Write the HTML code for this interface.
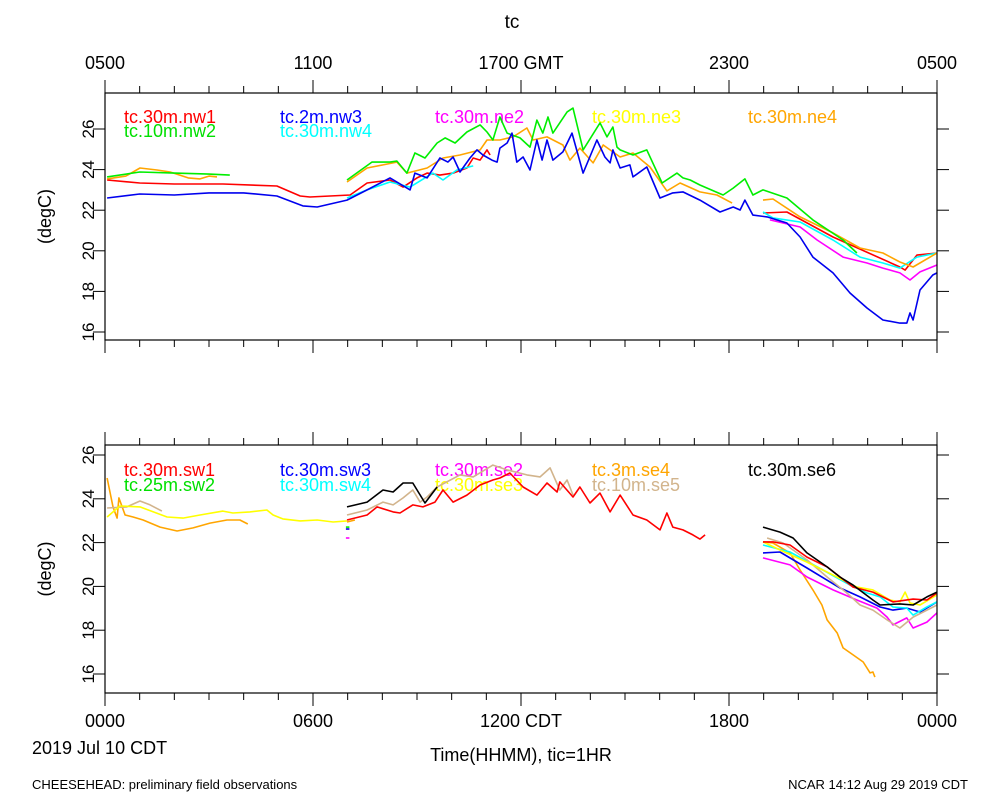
<!DOCTYPE html>
<html><head><meta charset="utf-8"><style>
html,body{margin:0;padding:0;background:#fff;}
svg{display:block;font-family:"Liberation Sans",sans-serif;}
</style></head><body>
<svg id="chart" width="1000" height="800" xmlns="http://www.w3.org/2000/svg">
<text x="512" y="28" font-size="19" text-anchor="middle">tc</text>
<g id="top-axis-labels" font-size="18" text-anchor="middle"></g>
<g id="bottom-axis-labels" font-size="18" text-anchor="middle"></g>
<text x="32" y="754" font-size="18">2019 Jul 10 CDT</text>
<text x="521" y="761" font-size="18" text-anchor="middle">Time(HHMM), tic=1HR</text>
<text x="32" y="789" font-size="13">CHEESEHEAD: preliminary field observations</text>
<text x="968" y="789" font-size="13" text-anchor="end">NCAR 14:12 Aug 29 2019 CDT</text>
<g id="p0"></g>
<g id="p1"></g>
</svg>
<script>
const topTickLabels=["0500","1100","1700 GMT","2300","0500"];
const bottomTickLabels=["0000","0600","1200 CDT","1800","0000"];
const yTicks=[16,18,20,22,24,26];

// ---- top panel series (hours since 0000 CDT, degC), null = gap
const nw1_h=[0.06,1.0,2.0,3.4,4.96,5.63,5.91,7.07,7.56,8.22,8.6,9.0,9.29,9.66,10.04,10.44,10.62,10.82,11.02,11.11,15,18.98,19.67,21.0,22.93,23.08,23.42,24.0];
const nw1_v=[23.49,23.34,23.29,23.29,23.19,22.70,22.65,22.75,23.34,23.49,23.14,23.59,23.83,23.73,23.83,24.08,24.57,24.47,24.97,24.72,null,21.86,21.91,20.68,19.20,19.05,19.79,19.89];
const nw2_h=[0.06,1.0,2.0,3.0,3.6,5,6.98,7.70,8.22,8.42,8.71,8.94,9.23,9.58,9.81,10.10,10.44,10.82,11.02,11.19,11.39,11.60,11.97,12.26,12.46,12.63,12.78,12.92,13.33,13.50,13.79,14.28,14.48,14.65,14.77,14.86,15.23,15.63,16.07,16.50,16.67,16.88,17.16,17.83,18.12,18.46,18.69,18.98,19.67,20.42,21.29,21.69];
const nw2_v=[23.64,23.88,23.83,23.78,23.73,null,23.49,24.37,24.37,24.42,23.83,24.82,24.57,25.31,25.56,25.31,25.85,26.20,25.85,25.46,26.59,25.80,25.56,25.11,26.44,25.80,26.59,25.80,26.84,27.03,24.97,26.30,25.61,26.10,25.11,24.97,24.72,24.97,23.34,23.83,23.59,23.49,23.24,22.75,23.09,23.54,22.75,23.0,22.60,21.52,20.53,19.89];
const nw3_h=[0.06,1.0,2.0,3.0,4.0,4.96,5.63,5.71,6.12,6.98,7.56,8.22,8.80,8.94,9.29,9.66,9.89,10.04,10.24,10.53,10.73,10.90,11.16,11.31,11.39,11.60,11.74,11.88,12.06,12.26,12.46,12.61,12.75,12.92,13.21,13.47,13.79,14.19,14.42,14.57,14.65,14.86,15.14,15.23,15.63,16.01,16.38,16.67,17.16,17.74,18.12,18.32,18.46,18.69,19.10,19.67,20.05,20.42,21.0,21.49,21.98,22.44,22.93,23.13,23.22,23.31,23.51,23.88,24.0];
const nw3_v=[22.60,22.80,22.75,22.85,22.85,22.70,22.26,22.21,22.16,22.50,23.0,23.59,23.0,23.83,23.59,24.57,24.37,24.62,23.88,24.57,24.97,24.72,24.47,24.37,25.06,25.31,25.80,24.37,24.62,23.98,25.46,24.47,25.46,24.47,24.87,25.80,23.83,25.46,24.62,24.33,24.97,24.08,24.23,23.64,24.13,22.60,22.85,22.90,22.50,21.91,22.16,22.01,22.50,21.76,21.67,21.37,20.68,19.69,18.91,17.92,17.18,16.59,16.44,16.44,16.94,16.59,18.07,18.81,18.91];
const nw4_h=[6.98,7.56,8.22,8.80,9.46,9.75,10.15,10.62,15,18.98,19.27,20.05,21.0,21.78,22.44,22.93,23.42,24.0];
const nw4_v=[22.60,23.0,23.39,23.14,23.83,23.49,23.98,24.18,null,21.91,21.62,21.42,20.53,19.69,19.40,19.15,19.69,19.89];
const ne2_h=[19.18,20.05,20.54,21.29,21.98,22.44,22.93,23.22,23.51,24.0];
const ne2_v=[21.52,21.17,20.53,19.69,19.40,19.15,18.91,18.56,18.96,19.30];
const ne4_h=[0.06,0.6,1.01,1.5,1.88,2.4,2.74,3.0,3.23,5,6.98,7.56,8.02,8.42,8.71,9.29,9.75,10.24,10.82,11.02,11.39,11.77,12.17,12.35,12.75,13.21,13.41,13.70,14.08,14.37,14.86,15.23,15.72,16.21,16.59,17.16,17.65,18.09,18.5,18.98,19.27,20.05,21.0,21.78,22.44,22.93,23.31,24.0];
const ne4_v=[23.54,23.68,24.08,23.98,23.88,23.59,23.54,23.68,23.64,null,23.39,24.08,24.23,24.37,23.83,24.08,24.57,24.72,24.97,25.46,25.46,25.61,26.05,25.46,25.61,25.21,24.47,25.06,24.33,25.21,24.62,24.82,24.13,22.95,23.34,22.90,22.75,22.35,null,22.50,22.55,21.67,20.88,20.14,19.89,19.45,19.20,19.89];

// ---- bottom panel series
const sw1_h=[6.98,7.56,7.85,8.31,8.51,8.88,9.17,9.52,9.75,10.04,10.44,10.82,11.19,11.39,11.68,12.06,12.46,12.75,13.04,13.12,13.50,13.70,13.99,14.28,14.57,14.86,15.23,15.63,16.01,16.21,16.38,16.67,16.96,17.16,17.31,18,18.98,19.27,19.76,20.25,20.83,21.58,22.15,22.73,23.31,23.71,24.0];
const sw1_v=[23.03,23.26,23.63,23.40,23.35,23.72,23.63,23.85,24.40,23.85,24.17,24.63,24.86,24.95,25.18,24.54,24.17,24.72,24.31,24.77,24.08,24.54,23.81,24.26,23.40,24.17,23.26,23.03,22.58,23.35,22.71,22.58,22.35,22.16,22.35,null,22.03,22.03,21.89,21.34,20.89,19.97,19.74,19.29,19.42,19.38,19.70];
const sw4_h=[18.98,19.76,20.71,21.49,21.98,22.36,22.73,23.13,23.31,23.71,24.0];
const sw4_v=[21.89,21.57,20.75,20.06,19.70,19.52,19.06,19.01,18.69,19.06,19.29];
const sw3_h=[18.98,19.47,20.25,21.20,21.78,22.36,22.73,23.13,23.51,24.0];
const sw3_v=[21.53,21.57,20.84,19.93,19.52,19.06,18.92,19.01,18.83,19.29];
const se2_h=[18.98,19.76,20.25,21.0,21.69,22.27,22.56,22.73,23.13,23.31,23.71,24.0];
const se2_v=[21.30,20.98,20.43,19.84,19.38,19.01,18.60,18.24,18.56,18.10,18.37,18.79];
const se3_h=[0.06,0.43,1.01,1.79,2.25,2.74,3.40,3.69,4.18,4.67,4.85,5.13,5.63,6.12,6.58,6.98,12,18.98,19.47,20.25,21.0,21.69,22.15,22.64,22.93,23.08,23.22,23.51,24.0];
const se3_v=[23.17,23.67,23.63,23.17,23.12,23.26,23.44,23.35,23.40,23.49,23.26,23.08,22.99,23.03,22.94,22.99,null,22.03,21.66,21.11,20.52,19.97,19.84,19.38,19.29,19.74,19.24,19.15,19.61];
const se4_h=[0.06,0.23,0.35,0.40,0.58,0.81,1.10,1.59,2.08,2.54,3.03,3.52,3.89,4.12,5,6.98,7.21,12,18.98,19.27,19.76,20.05,20.42,20.68,20.83,21.12,21.29,21.58,21.87,22.07,22.15,22.21];
const se4_v=[24.95,23.63,23.12,24.04,23.26,23.17,23.03,22.71,22.53,22.67,22.89,23.03,23.03,22.85,null,22.94,23.03,null,22.03,21.98,21.53,20.75,19.84,19.15,18.47,17.87,17.19,16.87,16.55,16.05,16.09,15.86];
const se5_h=[0.06,0.63,1.01,1.30,1.64,4,6.98,7.56,8.02,8.31,8.60,8.88,9.09,9.29,9.58,10.24,10.62,11.19,11.60,12.17,12.55,12.84,13.12,13.33,13.50,16,19.10,19.56,20.25,20.83,21.40,21.78,22.15,22.56,22.93,23.31,23.71,24.0];
const se5_v=[23.58,23.63,23.90,23.72,23.44,null,23.26,23.49,23.85,23.72,24.04,24.40,23.85,24.08,24.54,25.09,25.0,25.54,25.32,25.09,25.0,25.41,24.40,24.86,24.17,null,22.21,21.98,21.21,20.43,19.70,19.15,18.92,18.47,18.10,18.60,18.92,19.15];
const se6_h=[6.98,7.56,8.02,8.31,8.60,8.88,9.23,9.58,14,18.98,19.47,19.85,20.25,20.83,21.20,21.58,22.15,22.36,22.93,23.31,23.71,24.0];
const se6_v=[23.63,23.85,24.40,24.31,24.72,24.72,23.81,24.54,null,22.71,22.48,22.21,21.53,20.89,20.43,20.06,19.38,19.15,19.20,19.15,19.52,19.74];
const sw2_h=[6.95,7.05];
const sw2_v=[22.71,22.71];
const sw4b_h=[6.95,7.05];
const sw4b_v=[22.62,22.62];
const se2b_h=[6.95,7.05];
const se2b_v=[22.21,22.21];

const NS="http://www.w3.org/2000/svg";
function mk(tag,attrs,parent){const e=document.createElementNS(NS,tag);for(const k in attrs)e.setAttribute(k,attrs[k]);parent.appendChild(e);return e;}
const X0=105,X1=937;
function xs(h){return X0+(X1-X0)*h/24;}
const panels=[
 {g:document.getElementById('p0'),top:93,bot:340,y26:129,y16:332},
 {g:document.getElementById('p1'),top:445,bot:693,y26:455,y16:674}
];
function ysFor(p){return v=>p.y16+(v-16)*(p.y26-p.y16)/10;}

const svg=document.getElementById('chart');
// axis labels
const tl=document.getElementById('top-axis-labels');
topTickLabels.forEach((s,i)=>{const t=mk('text',{x:xs(i*6),y:69},tl);t.textContent=s;

});
const bl=document.getElementById('bottom-axis-labels');
bottomTickLabels.forEach((s,i)=>{const t=mk('text',{x:xs(i*6),y:727},bl);t.textContent=s;

});

function drawPanel(p,legend,series){
 const ys=ysFor(p);
 const g=p.g;
 // legend text
 legend.forEach(L=>{const t=mk('text',{x:L[2],y:L[3],fill:L[1],'font-size':18},g);t.textContent=L[0];
 
 });
 // series
 series.forEach(S=>{
  let d='',pen=false;
  S.h.forEach((h,i)=>{const v=S.v[i];if(v===null){pen=false;return;}
   d+=(pen?'L':'M')+xs(h).toFixed(1)+','+ys(v).toFixed(1);pen=true;});
  const pth=mk('path',{d:d,fill:'none',stroke:S.c,'stroke-width':1.6,'stroke-linejoin':'round'},g);
  
  
 });
 // frame
 const r=mk('rect',{x:X0,y:p.top,width:X1-X0,height:p.bot-p.top,fill:'none',stroke:'#000','stroke-width':1.2},g);
 
 
 // x ticks
 for(let h=0;h<=24;h++){const L=(h%6===0)?13:7;
  mk('line',{x1:xs(h),x2:xs(h),y1:p.top,y2:p.top-L,stroke:'#000'},g);
  mk('line',{x1:xs(h),x2:xs(h),y1:p.bot,y2:p.bot+L,stroke:'#000'},g);}
 // y ticks & labels
 yTicks.forEach(v=>{const y=ys(v);
  mk('line',{x1:X0,x2:X0-12,y1:y,y2:y,stroke:'#000'},g);
  mk('line',{x1:X1,x2:X1+12,y1:y,y2:y,stroke:'#000'},g);
  const t=mk('text',{x:0,y:0,'font-size':17,'text-anchor':'middle',transform:'translate(94,'+y+') rotate(-90)'},g);
  t.textContent=String(v);
  
  });
 const yt=mk('text',{x:0,y:0,'font-size':18,'text-anchor':'middle',transform:'translate(51,'+((p.top+p.bot)/2)+') rotate(-90)'},g);
 yt.textContent='(degC)';
 
 
}

drawPanel(panels[0],[
 ['tc.30m.nw1','#ff0000',124,123],['tc.10m.nw2','#00e000',124,137],
 ['tc.2m.nw3','#0000ff',280,123],['tc.30m.nw4','#00ffff',280,137],
 ['tc.30m.ne2','#ff00ff',435,123],['tc.30m.ne3','#ffff00',592,123],['tc.30m.ne4','#ffa500',748,123]
],[
 {n:'nw1',h:nw1_h,v:nw1_v,c:'#ff0000'},{n:'ne2',h:ne2_h,v:ne2_v,c:'#ff00ff'},
 {n:'nw4',h:nw4_h,v:nw4_v,c:'#00ffff'},{n:'ne4',h:ne4_h,v:ne4_v,c:'#ffa500'},
 {n:'nw2',h:nw2_h,v:nw2_v,c:'#00ee00'},{n:'nw3',h:nw3_h,v:nw3_v,c:'#0000ee'}
]);
drawPanel(panels[1],[
 ['tc.30m.sw1','#ff0000',124,476],['tc.25m.sw2','#00e000',124,491],
 ['tc.30m.sw3','#0000ff',280,476],['tc.30m.sw4','#00ffff',280,491],
 ['tc.30m.se2','#ff00ff',435,476],['tc.30m.se3','#ffff00',435,491],
 ['tc.3m.se4','#ffa500',592,476],['tc.10m.se5','#d2b48c',592,491],['tc.30m.se6','#000000',748,476]
],[
 {n:'se4',h:se4_h,v:se4_v,c:'#ffa500'},{n:'se2',h:se2_h,v:se2_v,c:'#ff00ff'},
 {n:'sw3',h:sw3_h,v:sw3_v,c:'#0000ee'},{n:'sw4',h:sw4_h,v:sw4_v,c:'#00ffff'},
 {n:'se5',h:se5_h,v:se5_v,c:'#d2b48c'},{n:'se3',h:se3_h,v:se3_v,c:'#ffff00'},
 {n:'sw1',h:sw1_h,v:sw1_v,c:'#ff0000'},{n:'se6',h:se6_h,v:se6_v,c:'#000000'},
 {n:'sw2',h:sw2_h,v:sw2_v,c:'#00ee00'},{n:'sw4-short',h:sw4b_h,v:sw4b_v,c:'#0000ee'},
 {n:'se2-short',h:se2b_h,v:se2b_v,c:'#ff00ff'}
]);
</script>
</body></html>
